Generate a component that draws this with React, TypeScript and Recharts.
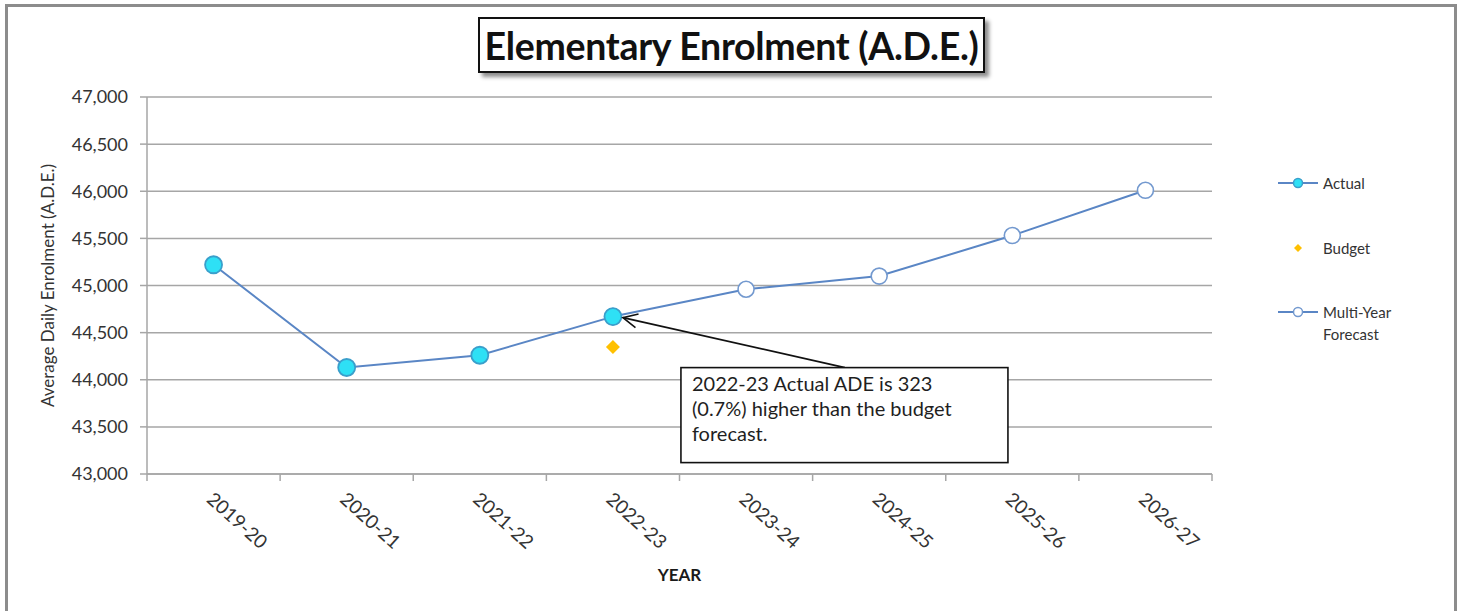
import React from 'react';
import {
  LineChart,
  Line,
  XAxis,
  YAxis,
  CartesianGrid,
  ReferenceDot,
} from 'recharts';

const years = ['2019-20', '2020-21', '2021-22', '2022-23', '2023-24', '2024-25', '2025-26', '2026-27'];
const actual = [45220, 44130, 44260, 44670, null, null, null, null];
const budget = [null, null, null, 44347, null, null, null, null];
const forecast = [null, null, null, 44670, 44960, 45100, 45530, 46010];
const yTicks = [43000, 43500, 44000, 44500, 45000, 45500, 46000, 46500, 47000];

const noteLines = ['2022-23 Actual ADE is 323', '(0.7%) higher than the budget', 'forecast.'];

const FONT = 'Lato, "Open Sans", sans-serif';
const LINE_BLUE = '#5A86C5';
const GRID = '#a6a6a6';
const TEXT = '#333333';

const data = years.map((year, i) => ({
  year,
  actual: actual[i],
  budget: budget[i],
  forecast: forecast[i],
}));

const WIDTH = 1464;
const HEIGHT = 611;
const MARGIN = { top: 97, right: 252, bottom: 37, left: 27 };
const Y_AXIS_WIDTH = 120;
const PLOT_WIDTH = WIDTH - MARGIN.left - MARGIN.right - Y_AXIS_WIDTH;
const BAND = PLOT_WIDTH / years.length;

function YearTick(props: any) {
  const { x, y, payload, index } = props;
  return (
    <g>
      {index === 0 && (
        <line x1={x - BAND / 2} x2={x - BAND / 2} y1={y} y2={y + 7} stroke={GRID} strokeWidth={1.5} />
      )}
      <line x1={x + BAND / 2} x2={x + BAND / 2} y1={y} y2={y + 7} stroke={GRID} strokeWidth={1.5} />
      <text
        x={x - 8}
        y={y + 27}
        transform={`rotate(42, ${x - 8}, ${y + 27})`}
        textAnchor="start"
        fontSize={19}
        fill={TEXT}
        fontFamily={FONT}
      >
        {payload.value}
      </text>
    </g>
  );
}

function YLabel(props: any) {
  const { viewBox } = props;
  const cx = 47;
  const cy = viewBox.y + viewBox.height / 2;
  return (
    <text
      x={cx}
      y={cy}
      transform={`rotate(-90, ${cx}, ${cy})`}
      textAnchor="middle"
      dominantBaseline="central"
      fontSize={17}
      fill={TEXT}
      fontFamily={FONT}
    >
      Average Daily Enrolment (A.D.E.)
    </text>
  );
}

function XLabel(props: any) {
  const { viewBox } = props;
  return (
    <text
      x={viewBox.x + viewBox.width / 2}
      y={viewBox.y + 107}
      textAnchor="middle"
      fontSize={17}
      fontWeight="bold"
      fill="#1a1a1a"
      fontFamily={FONT}
    >
      YEAR
    </text>
  );
}

function ActualDot(props: any) {
  const { cx, cy, value } = props;
  if (value == null) return <g key={props.key} />;
  return <circle key={props.key} cx={cx} cy={cy} r={8.5} fill="#2EE0F5" stroke="#3A9FCB" strokeWidth={1.8} />;
}

function ForecastDot(props: any) {
  const { cx, cy, value } = props;
  if (value == null) return <g key={props.key} />;
  return <circle key={props.key} cx={cx} cy={cy} r={8} fill="#ffffff" stroke="#7399CF" strokeWidth={1.6} />;
}

function BudgetDot(props: any) {
  const { cx, cy, value } = props;
  if (value == null) return <g key={props.key} />;
  const s = 7;
  return (
    <polygon
      key={props.key}
      points={`${cx},${cy - s} ${cx + s},${cy} ${cx},${cy + s} ${cx - s},${cy}`}
      fill="#FFC000"
    />
  );
}

function Callout(props: any) {
  const { cx, cy } = props;
  const boxX = cx + 68;
  const boxY = cy + 51;
  const tailX = cx + 232;
  const tailY = cy + 51;
  const headX = cx + 10;
  const headY = cy + 1;
  const ang = Math.atan2(tailY - headY, tailX - headX);
  const w1 = ang + 0.45;
  const w2 = ang - 0.45;
  const len = 16;
  return (
    <g>
      <line x1={tailX} y1={tailY} x2={headX} y2={headY} stroke="#111" strokeWidth={1.6} />
      <polyline
        points={`${headX + len * Math.cos(w1)},${headY + len * Math.sin(w1)} ${headX},${headY} ${headX + len * Math.cos(w2)},${headY + len * Math.sin(w2)}`}
        fill="none"
        stroke="#111"
        strokeWidth={1.6}
      />
      <rect x={boxX} y={boxY} width={327} height={95} fill="#fff" stroke="#111" strokeWidth={1.6} />
      {noteLines.map((t, i) => (
        <text key={t} x={boxX + 11} y={boxY + 23 + i * 25} fontSize={20} fill="#1f1f1f" fontFamily={FONT}>
          {t}
        </text>
      ))}
    </g>
  );
}

function LegendIcon({ kind }: { kind: string }) {
  if (kind === 'budget') {
    return (
      <svg width={40} height={14}>
        <polygon points="20,3 24,7 20,11 16,7" fill="#FFC000" />
      </svg>
    );
  }
  const fill = kind === 'actual' ? '#2EE0F5' : '#ffffff';
  const stroke = kind === 'actual' ? '#3A9FCB' : '#7399CF';
  return (
    <svg width={40} height={14}>
      <line x1={0} x2={40} y1={7} y2={7} stroke={LINE_BLUE} strokeWidth={2} />
      <circle cx={20} cy={7} r={4.5} fill={fill} stroke={stroke} strokeWidth={1.5} />
    </svg>
  );
}

const legendItems = [
  { key: 'actual', label: 'Actual', top: 0 },
  { key: 'budget', label: 'Budget', top: 65 },
  { key: 'forecast', label: 'Multi-Year\nForecast', top: 129 },
];

function ChartLegend() {
  return (
    <div
      style={{
        position: 'absolute',
        left: 1278,
        top: 172,
        width: 180,
        height: 180,
        fontFamily: FONT,
        fontSize: 15,
        color: TEXT,
      }}
    >
      {legendItems.map((item) => (
        <div key={item.key} style={{ position: 'absolute', left: 0, top: item.top, display: 'flex', alignItems: 'flex-start' }}>
          <div style={{ marginTop: 3 }}>
            <LegendIcon kind={item.key} />
          </div>
          <div style={{ marginLeft: 5, whiteSpace: 'pre-line', lineHeight: '22px' }}>{item.label}</div>
        </div>
      ))}
    </div>
  );
}

export default function App() {
  return (
    <div style={{ position: 'absolute', left: 0, top: 0, width: WIDTH, height: HEIGHT, background: '#fff', overflow: 'hidden' }}>
      <div
        style={{
          position: 'absolute',
          left: 5,
          top: 4,
          width: 1446,
          height: 640,
          border: '3px solid #8c8c8c',
          boxSizing: 'content-box',
        }}
      />
      <div style={{ position: 'absolute', left: 0, top: 0 }}>
        <LineChart width={WIDTH} height={HEIGHT} data={data} margin={MARGIN}>
          <CartesianGrid vertical={false} stroke={GRID} strokeWidth={1.5} />
          <XAxis
            dataKey="year"
            height={100}
            padding={{ left: BAND / 2, right: BAND / 2 }}
            tickLine={false}
            tickSize={0}
            tickMargin={0}
            axisLine={{ stroke: GRID, strokeWidth: 1.5 }}
            tick={<YearTick />}
            interval={0}
            label={<XLabel />}
          />
          <YAxis
            width={Y_AXIS_WIDTH}
            domain={[43000, 47000]}
            ticks={yTicks}
            allowDataOverflow
            tickFormatter={(v: number) => v.toLocaleString('en-US')}
            tickSize={7}
            tickMargin={12}
            tickLine={{ stroke: GRID, strokeWidth: 1.5 }}
            axisLine={{ stroke: GRID, strokeWidth: 1.5 }}
            tick={{ fill: TEXT, fontSize: 18, fontFamily: FONT }}
            label={<YLabel />}
          />
          <Line
            dataKey="forecast"
            name="Multi-Year Forecast"
            stroke={LINE_BLUE}
            strokeWidth={2}
            dot={<ForecastDot />}
            activeDot={false}
            isAnimationActive={false}
            connectNulls={false}
          />
          <Line
            dataKey="actual"
            name="Actual"
            stroke={LINE_BLUE}
            strokeWidth={2}
            dot={<ActualDot />}
            activeDot={false}
            isAnimationActive={false}
          />
          <Line
            dataKey="budget"
            name="Budget"
            stroke="none"
            dot={<BudgetDot />}
            activeDot={false}
            isAnimationActive={false}
          />
          <ReferenceDot x="2022-23" y={44670} r={0} shape={(p: any) => <Callout {...p} />} />
        </LineChart>
      </div>
      <ChartLegend />
      <div
        style={{
          position: 'absolute',
          left: 478,
          top: 17,
          width: 503,
          height: 52,
          border: '2px solid #111',
          background: '#fff',
          boxShadow: '4px 4px 4px rgba(0,0,0,0.45)',
          display: 'flex',
          alignItems: 'center',
          justifyContent: 'center',
          fontFamily: FONT,
          fontWeight: 'bold',
          fontSize: 37.5,
          letterSpacing: -0.3,
          color: '#111',
        }}
      >
        Elementary Enrolment (A.D.E.)
      </div>
    </div>
  );
}
